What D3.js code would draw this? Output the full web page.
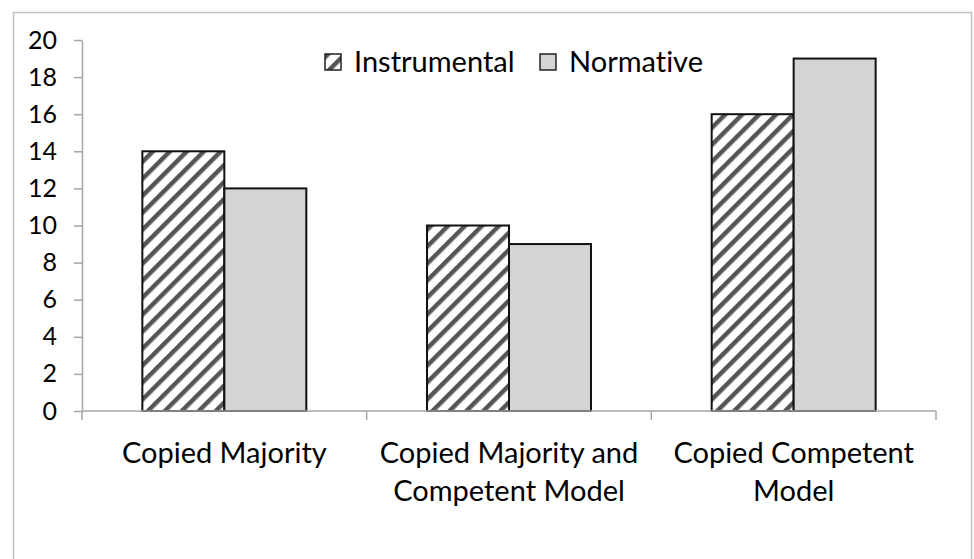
<!DOCTYPE html>
<html>
<head>
<meta charset="utf-8">
<script src="https://cdn.jsdelivr.net/npm/d3@7"></script>
<style>
  body { margin: 0; background: #fff; }
  text { font-family: Lato, "Noto Sans", sans-serif; fill: #000; font-variant-ligatures: none; }
</style>
</head>
<body>
<div id="chart"></div>
<script>
var categories = [["Copied Majority"], ["Copied Majority and", "Competent Model"], ["Copied Competent", "Model"]];
var seriesNames = ["Instrumental", "Normative"];
var instrumental = [14, 10, 16];
var normative = [12, 9, 19];
var yTicks = [0, 2, 4, 6, 8, 10, 12, 14, 16, 18, 20];

var W = 974, H = 559;
var margin = {top: 40, left: 82, right: 38, bottom: 148};
var width = 936 - 82, height = 411 - 40;

var svg = d3.select("#chart").append("svg")
    .attr("width", W)
    .attr("height", H);

// hatch pattern
var defs = svg.append("defs");
var pat = defs.append("pattern")
    .attr("id", "hatch")
    .attr("patternUnits", "userSpaceOnUse")
    .attr("width", 12)
    .attr("height", 12)
    .attr("patternTransform", "rotate(45)");
pat.append("rect").attr("width", 12).attr("height", 12).attr("fill", "#fff");
pat.append("rect").attr("x", 0).attr("width", 4.5).attr("height", 12).attr("fill", "#555");

// outer frame
svg.append("rect")
    .attr("x", 13.5).attr("y", 12.5)
    .attr("width", 958).attr("height", 600)
    .attr("fill", "none")
    .attr("stroke", "#c0c0c0")
    .attr("stroke-width", 1.5);

var g = svg.append("g").attr("transform", "translate(" + margin.left + "," + margin.top + ")");

var x0 = d3.scaleBand().domain(d3.range(categories.length)).range([0, width]);
var barW = x0.bandwidth() * 0.288;
var x1 = d3.scaleBand().domain(seriesNames).range([0, barW * 2]);
var y = d3.scaleLinear().domain([0, 20]).range([height, 0]);

var gap = (x0.bandwidth() - barW * 2) / 2;

var data = categories.map(function(c, i) {
    return [{s: "Instrumental", v: instrumental[i]}, {s: "Normative", v: normative[i]}];
});

var groups = g.selectAll(".grp").data(data).enter().append("g")
    .attr("transform", function(d, i) { return "translate(" + (x0(i) + gap) + ",0)"; });

groups.selectAll("rect").data(function(d) { return d; }).enter().append("rect")
    .attr("x", function(d) { return x1(d.s); })
    .attr("y", function(d) { return y(d.v); })
    .attr("width", x1.bandwidth())
    .attr("height", function(d) { return height - y(d.v); })
    .attr("fill", function(d) { return d.s == "Instrumental" ? "url(#hatch)" : "#d4d4d4"; })
    .attr("stroke", "#111")
    .attr("stroke-width", 2);

// y axis
var yAxis = g.append("g")
    .call(d3.axisLeft(y).tickValues(yTicks).tickSize(8).tickPadding(17).tickSizeOuter(0));
yAxis.select(".domain").attr("stroke", "#a6a6a6").attr("stroke-width", 1.5);
yAxis.selectAll(".tick line").attr("stroke", "#a6a6a6").attr("stroke-width", 1.5);
yAxis.selectAll(".tick text").style("font-size", "25px").style("font-family", "Lato, sans-serif").attr("fill", "#000");

// x axis
var xg = g.append("g").attr("transform", "translate(0," + height + ")");
xg.append("line").attr("x1", 0).attr("x2", width).attr("stroke", "#a6a6a6").attr("stroke-width", 1.5);
xg.selectAll(".xt").data(d3.range(categories.length + 1)).enter().append("line")
    .attr("x1", function(i) { return i * x0.step(); })
    .attr("x2", function(i) { return i * x0.step(); })
    .attr("y1", 0).attr("y2", 9)
    .attr("stroke", "#a6a6a6").attr("stroke-width", 1.5);

xg.selectAll(".xl").data(categories).enter().append("text")
    .attr("text-anchor", "middle")
    .attr("transform", function(d, i) { return "translate(" + (x0(i) + x0.bandwidth() / 2) + ",0)"; })
    .style("font-size", "29px")
    .selectAll("tspan").data(function(d) { return d; }).enter().append("tspan")
    .attr("x", 0)
    .attr("y", function(d, i) { return 52 + i * 38; })
    .text(function(d) { return d; });

// legend
var legend = svg.append("g");
var legX = [325, 540];
seriesNames.forEach(function(s, i) {
    var lg = legend.append("g").attr("transform", "translate(" + legX[i] + ",54)");
    lg.append("rect").attr("width", 16).attr("height", 16)
        .attr("fill", s == "Instrumental" ? "url(#hatch)" : "#d4d4d4")
        .attr("stroke", "#222").attr("stroke-width", 1.5);
    lg.append("text").attr("x", 29).attr("y", 18).style("font-size", "29px").text(s);
});
</script>
</body>
</html>
